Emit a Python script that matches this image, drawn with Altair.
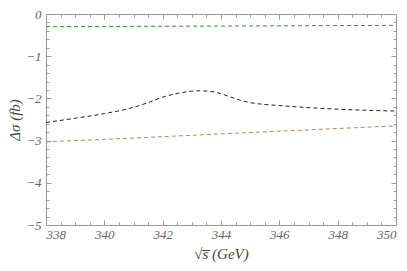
import altair as alt
import pandas as pd

# data
sqrt_s_black = [338.0, 339.0, 340.0, 340.9, 341.5, 342.0, 342.6, 343.2, 343.6, 344.0, 344.3, 344.65, 345.0, 345.45, 346.0, 346.6, 347.7, 348.9, 350.0]
dsig_black = [-2.57, -2.47, -2.36, -2.23, -2.10, -1.97, -1.87, -1.82, -1.83, -1.89, -1.96, -2.04, -2.10, -2.14, -2.17, -2.20, -2.245, -2.28, -2.30]

sqrt_s_green = [338.0, 344.0, 350.0]
dsig_green = [-0.30, -0.285, -0.27]

sqrt_s_orange = [338.0, 341.0, 344.0, 347.0, 350.0]
dsig_orange = [-3.03, -2.94, -2.84, -2.745, -2.65]

x_major = [338, 340, 342, 344, 346, 348, 350]
x_all = [338 + 0.5 * i for i in range(25)]
y_major = [0, -1, -2, -3, -4, -5]
y_all = [round(-0.2 * i, 1) for i in range(26)]

W, H = 350, 211
AX = "#9a9a9a"
LAB = "#666666"
FONT = "Liberation Serif"

df_b = pd.DataFrame({"x": sqrt_s_black, "y": dsig_black})
df_g = pd.DataFrame({"x": sqrt_s_green, "y": dsig_green})
df_o = pd.DataFrame({"x": sqrt_s_orange, "y": dsig_orange})

xs = alt.Scale(domain=[338, 350], nice=False, zero=False)
ys = alt.Scale(domain=[-5, 0], nice=False, zero=False)

x_tick_size = {"condition": {"test": "round(datum.value*2) % 4 == 0", "value": 5}, "value": 3}
y_tick_size = {"condition": {"test": "abs(round(datum.value*5)) % 5 == 0", "value": 5}, "value": 3}

dash = [4, 3]

# layer 1: labels + bottom/left domain
black = alt.Chart(df_b).mark_line(color="#222222", strokeWidth=1, strokeDash=dash, interpolate="monotone").encode(
    x=alt.X("x:Q", scale=xs, axis=alt.Axis(
        orient="bottom", values=x_major, ticks=False, domain=True, domainColor=AX,
        labelFont=FONT, labelFontStyle="italic", labelFontSize=13, labelColor=LAB, labelPadding=3,
        title="√s̅  (GeV)", titleFont=FONT, titleFontStyle="italic", titleFontSize=15,
        titleFontWeight="normal", titleColor="#444444", titlePadding=5, grid=False)),
    y=alt.Y("y:Q", scale=ys, axis=alt.Axis(
        orient="left", values=y_major, ticks=False, domain=True, domainColor=AX,
        labelFont=FONT, labelFontStyle="italic", labelFontSize=13, labelColor=LAB, labelPadding=5,
        title="Δσ (fb)", titleFont=FONT, titleFontStyle="italic", titleFontSize=15,
        titleFontWeight="normal", titleColor="#444444", titlePadding=3, grid=False)),
)

# layer 2: inward ticks on bottom and left edges
green = alt.Chart(df_g).mark_line(color="#22a022", strokeWidth=1, strokeDash=dash).encode(
    x=alt.X("x:Q", scale=xs, axis=alt.Axis(
        orient="top", offset=-H, values=x_all, labels=False, domain=False, title=None,
        tickColor=AX, tickSize=x_tick_size, grid=False)),
    y=alt.Y("y:Q", scale=ys, axis=alt.Axis(
        orient="right", offset=-W, values=y_all, labels=False, domain=False, title=None,
        tickColor=AX, tickSize=y_tick_size, grid=False)),
)

# layer 3: top and right edges with inward ticks
orange = alt.Chart(df_o).mark_line(color="#b9874f", strokeWidth=1, strokeDash=dash).encode(
    x=alt.X("x:Q", scale=xs, axis=alt.Axis(
        orient="bottom", offset=-H, values=x_all, labels=False, domain=True, domainColor=AX,
        title=None, tickColor=AX, tickSize=x_tick_size, grid=False)),
    y=alt.Y("y:Q", scale=ys, axis=alt.Axis(
        orient="left", offset=-W, values=y_all, labels=False, domain=True, domainColor=AX,
        title=None, tickColor=AX, tickSize=y_tick_size, grid=False)),
)

chart = alt.layer(black, green, orange).resolve_axis(x="independent", y="independent").properties(
    width=W, height=H,
    autosize=alt.AutoSizeParams(type="none"),
    padding={"left": 38, "top": 6, "right": 3, "bottom": 38},
).configure_view(stroke=None).configure(background="white")

chart.save("out.html", embed_options={"renderer": "svg", "actions": False})
